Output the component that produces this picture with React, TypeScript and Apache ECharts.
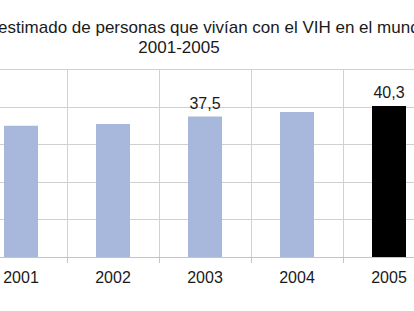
import React, { useEffect, useRef } from "react";
import * as echarts from "echarts";

const titleLine1 = "Número estimado de personas que vivían con el VIH en el mundo";
const titleLine2 = "2001-2005";
const years = ["2001", "2002", "2003", "2004", "2005"];
const values = [35.0, 35.5, 37.5, 38.7, 40.3];
const labelledYears = ["2003", "2005"];
const highlightYear = "2005";

const FONT = "'Liberation Sans', Arial, sans-serif";

export default function App() {
  const ref = useRef<HTMLDivElement>(null);
  useEffect(() => {
    document.body.style.margin = "0";
    const chart = echarts.init(ref.current!, null, { renderer: "svg" });
    chart.setOption({
      animation: false,
      backgroundColor: "#ffffff",
      graphic: [
        {
          type: "text",
          x: 181,
          y: 27,
          style: {
            text: titleLine1,
            font: `17px ${FONT}`,
            fill: "#1a1a1a",
            textAlign: "center",
            textVerticalAlign: "middle",
          },
        },
        {
          type: "text",
          x: 179,
          y: 47,
          style: {
            text: titleLine2,
            font: `17px ${FONT}`,
            fill: "#1a1a1a",
            textAlign: "center",
            textVerticalAlign: "middle",
          },
        },
      ],
      grid: {
        left: -25,
        right: -21,
        top: 69.5,
        bottom: 54,
        containLabel: false,
        outerBoundsMode: "none",
      },
      xAxis: {
        type: "category",
        data: years,
        boundaryGap: true,
        axisLine: { show: true, lineStyle: { color: "#c4c4c4", width: 1 } },
        axisTick: { show: true, length: 6, lineStyle: { color: "#c4c4c4" } },
        axisLabel: {
          color: "#1a1a1a",
          fontSize: 16,
          fontFamily: FONT,
          margin: 12,
        },
        splitLine: { show: true, lineStyle: { color: "#d0d0d0", width: 1 } },
      },
      yAxis: {
        type: "value",
        min: 0,
        max: 50,
        interval: 10,
        axisLabel: { show: false },
        axisLine: { show: false },
        axisTick: { show: false },
        splitLine: { show: true, lineStyle: { color: "#d0d0d0", width: 1 } },
      },
      series: [
        {
          type: "bar",
          barWidth: 34,
          data: values.map((v, i) => ({
            value: v,
            itemStyle: { color: years[i] === highlightYear ? "#000000" : "#a8b8dc" },
            label: {
              show: labelledYears.includes(years[i]),
              position: "top",
              distance: 5,
              color: "#1a1a1a",
              fontSize: 16,
              fontFamily: FONT,
              formatter: (p: any) => String(p.value).replace(".", ","),
            },
          })),
        },
      ],
    });
    return () => chart.dispose();
  }, []);
  return (
    <div
      ref={ref}
      style={{ position: "fixed", left: 0, top: 0, width: 414, height: 311 }}
    />
  );
}
